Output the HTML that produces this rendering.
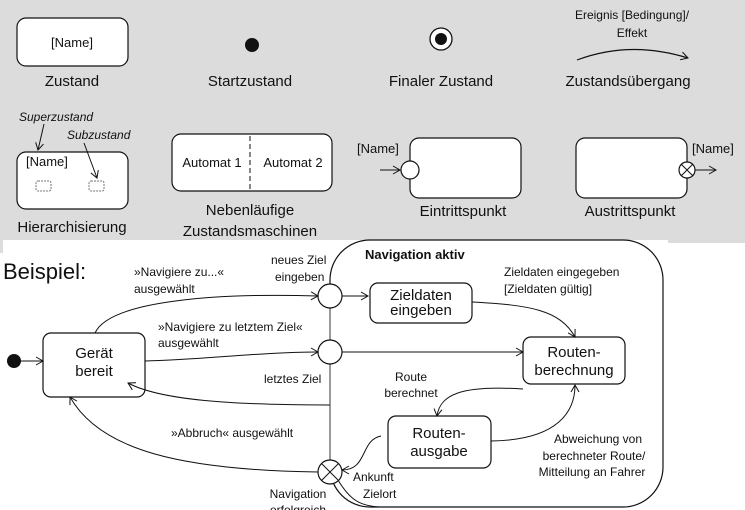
<!DOCTYPE html>
<html><head><meta charset="utf-8"><style>
html,body{margin:0;padding:0;background:#fff;}
svg{display:block;}
text{font-family:"Liberation Sans",sans-serif;fill:#111;}
</style></head><body>
<svg width="745" height="510" viewBox="0 0 745 510" xmlns="http://www.w3.org/2000/svg">
<defs>
<marker id="a" markerWidth="10" markerHeight="10" refX="8" refY="5" orient="auto" markerUnits="userSpaceOnUse">
<path d="M1,1 L8,5 L1,9" fill="none" stroke="#111" stroke-width="1"/>
</marker>
</defs>
<rect x="0" y="0" width="745" height="240" fill="#dcdcdc"/>
<rect x="668" y="237" width="77" height="6" fill="#dcdcdc"/>
<rect x="0" y="237" width="3" height="16" fill="#dcdcdc"/>
<g stroke="#111" stroke-width="1.2" fill="#fff">
<rect x="17" y="18" width="111" height="48" rx="9"/>
<rect x="17" y="152" width="111" height="57" rx="9"/>
<rect x="172" y="134" width="160" height="57" rx="9"/>
<rect x="410" y="138" width="111" height="60" rx="9"/>
<rect x="576" y="138" width="111" height="60" rx="9"/>
</g>
<g font-size="13" text-anchor="middle">
<text x="72" y="47">[Name]</text>
<text x="72" y="86" font-size="15">Zustand</text>
<text x="250" y="86" font-size="15">Startzustand</text>
<text x="441" y="86" font-size="15">Finaler Zustand</text>
<text x="628" y="86" font-size="15">Zustandsübergang</text>
<text x="632" y="19" font-size="12">Ereignis [Bedingung]/</text>
<text x="632" y="37" font-size="12">Effekt</text>
<text x="212" y="167">Automat 1</text>
<text x="293" y="167">Automat 2</text>
<text x="72" y="232" font-size="15">Hierarchisierung</text>
<text x="250" y="215" font-size="15">Nebenläufige</text>
<text x="250" y="236" font-size="15">Zustandsmaschinen</text>
<text x="463" y="216" font-size="15">Eintrittspunkt</text>
<text x="630" y="216" font-size="15">Austrittspunkt</text>
</g>
<circle cx="252" cy="45" r="7" fill="#111"/>
<circle cx="441" cy="39" r="11" fill="#fff" stroke="#111" stroke-width="1.3"/>
<circle cx="441" cy="39" r="6" fill="#111"/>
<path d="M577,60 Q630,40 688,58" fill="none" stroke="#111" stroke-width="1.2" marker-end="url(#a)"/>
<line x1="250" y1="136" x2="250" y2="189" stroke="#111" stroke-dasharray="5,3"/>
<text x="19" y="121" font-size="12" font-style="italic">Superzustand</text>
<text x="67" y="139" font-size="12" font-style="italic">Subzustand</text>
<text x="26" y="166" font-size="13">[Name]</text>
<line x1="44" y1="124" x2="38" y2="150" stroke="#111" marker-end="url(#a)"/>
<line x1="84" y1="143" x2="97" y2="178" stroke="#111" marker-end="url(#a)"/>
<rect x="36" y="181" width="15" height="10" rx="2" fill="none" stroke="#777" stroke-dasharray="2,1"/>
<rect x="89" y="181" width="15" height="10" rx="2" fill="none" stroke="#777" stroke-dasharray="2,1"/>
<text x="357" y="153" font-size="13">[Name]</text>
<line x1="380" y1="170" x2="400" y2="170" stroke="#111" marker-end="url(#a)"/>
<circle cx="410" cy="170" r="9" fill="#fff" stroke="#111" stroke-width="1.2"/>
<text x="692" y="153" font-size="13">[Name]</text>
<circle cx="687" cy="170" r="8" fill="#fff" stroke="#111" stroke-width="1.2"/>
<path d="M681,164 L693,176 M693,164 L681,176" stroke="#111"/>
<line x1="695" y1="170" x2="716" y2="170" stroke="#111" marker-end="url(#a)"/>

<!-- Example -->
<text x="3" y="279" font-size="22">Beispiel:</text>
<rect x="330" y="240" width="333" height="267" rx="40" fill="none" stroke="#111" stroke-width="1.2"/>
<text x="365" y="259" font-size="13" font-weight="bold">Navigation aktiv</text>
<g stroke="#111" stroke-width="1.2" fill="#fff">
<rect x="43" y="333" width="102" height="64" rx="8"/>
<rect x="370" y="283" width="102" height="40" rx="8"/>
<rect x="523" y="337" width="102" height="47" rx="8"/>
<rect x="388" y="416" width="103" height="52" rx="8"/>
</g>
<line x1="330" y1="296" x2="330" y2="470" stroke="#888" stroke-width="1.5"/>
<circle cx="14" cy="361" r="7" fill="#111"/>
<g fill="none" stroke="#111" stroke-width="1" marker-end="url(#a)">
<line x1="20" y1="361" x2="43" y2="361"/>
<path d="M95,333 C110,300 220,293 318,296"/>
<path d="M145,361 C200,360 260,352 318,352"/>
<line x1="342" y1="352" x2="523" y2="352"/>
<line x1="342" y1="296" x2="368" y2="296"/>
<path d="M472,302 C530,305 560,310 575,337"/>
<path d="M523,389 C460,385 440,395 437,416"/>
<path d="M491,441 C560,440 575,410 575,385"/>
<path d="M381,436 C360,440 368,470 342,470"/>
<path d="M330,405 C230,405 160,400 128,383"/>
<path d="M318,472 C180,470 100,450 70,397"/>
</g>
<path d="M338,480 C350,500 360,506 380,507" fill="none" stroke="#111"/>
<circle cx="330" cy="296" r="12" fill="#fff" stroke="#111" stroke-width="1.2"/>
<circle cx="330" cy="352" r="12" fill="#fff" stroke="#111" stroke-width="1.2"/>
<circle cx="330" cy="472" r="12" fill="#fff" stroke="#111" stroke-width="1.2"/>
<path d="M322,464 L338,480 M338,464 L322,480" stroke="#111"/>
<g font-size="12">
<text x="134" y="276">»Navigiere zu...«</text>
<text x="134" y="293">ausgewählt</text>
<text x="158" y="331">»Navigiere zu letztem Ziel«</text>
<text x="158" y="347">ausgewählt</text>
<text x="271" y="264">neues Ziel</text>
<text x="275" y="281">eingeben</text>
<text x="264" y="383">letztes Ziel</text>
<text x="171" y="437">»Abbruch« ausgewählt</text>
<text x="504" y="276">Zieldaten eingegeben</text>
<text x="504" y="293">[Zieldaten gültig]</text>
<text x="411" y="381" text-anchor="middle">Route</text>
<text x="411" y="397" text-anchor="middle">berechnet</text>
<text x="598" y="443" text-anchor="middle">Abweichung von</text>
<text x="594" y="460" text-anchor="middle">berechneter Route/</text>
<text x="592" y="476" text-anchor="middle">Mitteilung an Fahrer</text>
<text x="353" y="481">Ankunft</text>
<text x="363" y="498">Zielort</text>
<text x="298" y="498" text-anchor="middle">Navigation</text>
<text x="298" y="514" text-anchor="middle">erfolgreich</text>
</g>
<g font-size="15" text-anchor="middle">
<text x="94" y="358">Gerät</text>
<text x="94" y="376">bereit</text>
<text x="421" y="300">Zieldaten</text>
<text x="421" y="315">eingeben</text>
<text x="574" y="357">Routen-</text>
<text x="574" y="375">berechnung</text>
<text x="439" y="438">Routen-</text>
<text x="439" y="456">ausgabe</text>
</g>
</svg>
</body></html>
